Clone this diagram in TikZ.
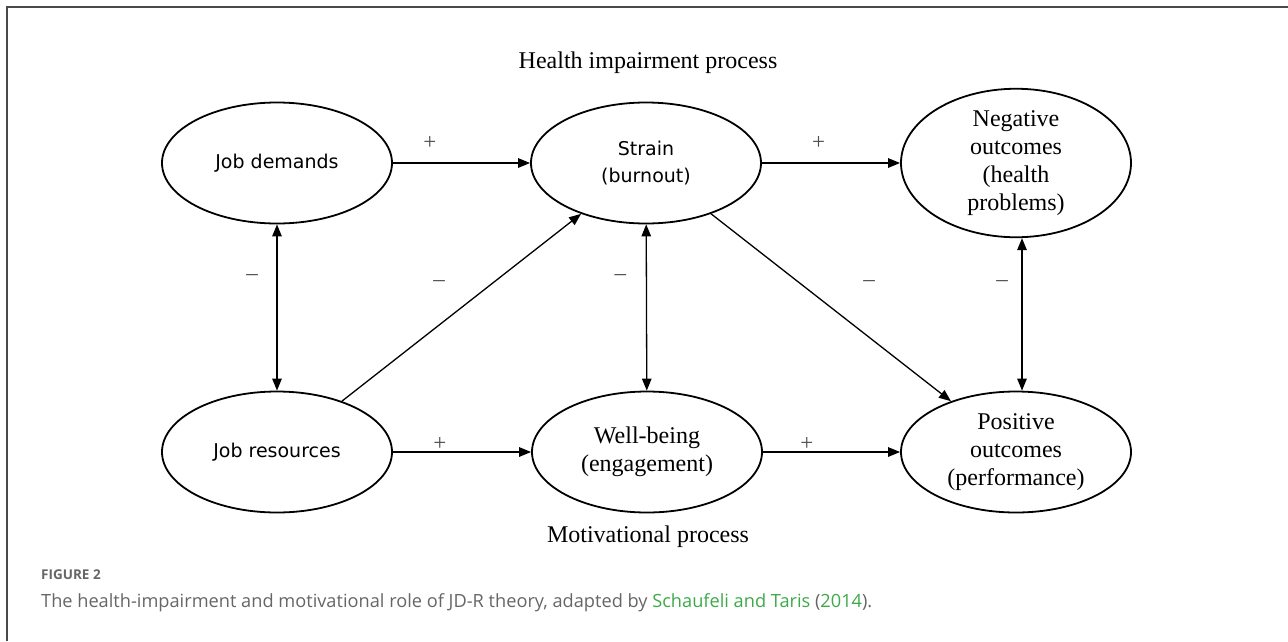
\documentclass[tikz,border=0pt]{standalone}
\usepackage{fontspec}
\setmainfont{Liberation Serif}
\newfontfamily\ovalsans{DejaVu Sans}
\newfontfamily\captsans{Open Sans}
\usetikzlibrary{arrows.meta,shapes.geometric}
\definecolor{captgray}{HTML}{666666}
\definecolor{captgreen}{HTML}{3DAA4A}
\definecolor{framegray}{HTML}{4A4A4A}

\begin{document}
\begin{tikzpicture}[x=1pt, y=-1pt,
    oval/.style={ellipse, draw=black, line width=1.8pt, minimum width=230pt, minimum height=121pt, inner sep=0pt, align=center},
    sansoval/.style={oval, font=\ovalsans\fontsize{19}{27}\selectfont},
    serifoval/.style={oval, font=\fontsize{24}{28}\selectfont},
    sign/.style={inner sep=0pt, font=\fontsize{23}{23}\selectfont, text=black!70},
    link/.style={line width=1.3pt, -{Triangle[length=12pt, width=9.5pt]}},
    twoway/.style={line width=1.3pt, {Triangle[length=12pt, width=9.5pt]}-{Triangle[length=12pt, width=9.5pt]}}
    ]
        \useasboundingbox (0,0) rectangle (1288,641);
        \draw[framegray, line width=2pt] (7,641) -- (7,7) -- (1288,7);

        \node[font=\fontsize{24}{24}\selectfont] (health) at (648,63) {Health impairment process};
        \node[font=\fontsize{24}{24}\selectfont] (motiv) at (648,537) {Motivational process};

        \node[sansoval] (demands) at (277,163) {Job demands};
        \node[sansoval] (strain) at (646,163) {Strain\\(burnout)};
        \node[serifoval] (negative) at (1016,163) {Negative\\outcomes\\(health\\problems)};
        \node[sansoval] (resources) at (277,452) {Job resources};
        \node[serifoval] (wellbeing) at (647,452) {Well-being\\(engagement)};
        \node[serifoval] (positive) at (1016,452) {Positive\\outcomes\\(performance)};

        \path[link]
        (demands) edge node[sign, pos=0.27, yshift=20pt] {+} (strain)
        (strain) edge node[sign, pos=0.41, yshift=20pt] {+} (negative)
        (resources) edge node[sign, pos=0.34, yshift=8pt] {+} (wellbeing)
        (wellbeing) edge node[sign, pos=0.32, yshift=8pt] {+} (positive)
        (resources) edge node[sign, pos=0.49, xshift=-20pt, yshift=26pt] {--} (strain)
        (strain) edge node[sign, pos=0.55, xshift=26pt, yshift=33pt] {--} (positive);

        \path[twoway]
        (demands) edge node[sign, pos=0.32, xshift=-25pt] {--} (resources)
        (strain) edge node[sign, pos=0.32, xshift=-26pt] {--} (wellbeing)
        ([xshift=6pt]negative.south) edge node[sign, pos=0.30, xshift=-20pt] {--} ([xshift=6pt]positive.north);

        \node[anchor=west, inner sep=0pt, text=captgray, font=\captsans\bfseries\fontsize{13.5}{13.5}\selectfont] (figlabel) at (41,575) {FIGURE 2};
        \node[anchor=west, inner sep=0pt, text=captgray, font=\captsans\fontsize{18.2}{18.2}\selectfont] (caption) at (41,603) {The health-impairment and motivational role of JD-R theory, adapted by \textcolor{captgreen}{Schaufeli and Taris} (\textcolor{captgreen}{2014}).};
    \end{tikzpicture}
\end{document}
